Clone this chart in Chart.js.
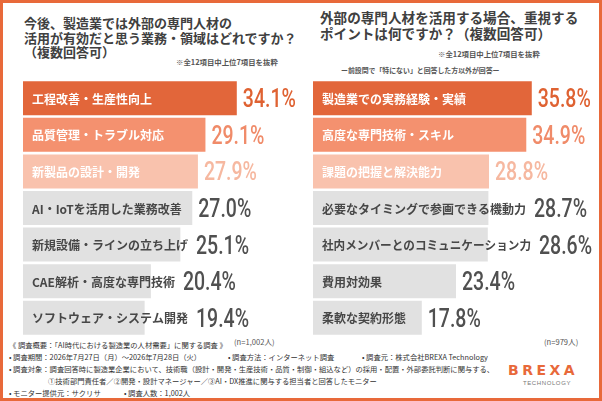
<!DOCTYPE html>
<html lang="ja">
<head>
<meta charset="utf-8">
<script src="https://cdn.jsdelivr.net/npm/chart.js@4.4.1/dist/chart.umd.min.js"></script>
<style>
    body { margin: 0; background: #fff; }
    #frame {
        position: relative; width: 602px; height: 401px; overflow: hidden;
        font-family: "Noto Sans CJK JP", sans-serif; color: #404040; background: #fff;
    }
    #border {
        position: absolute; inset: 0; border: 3px solid #e8693a; pointer-events: none;
    }
    .t { position: absolute; white-space: nowrap; }
    .title { font-weight: bold; }
    .note { font-size: 7.4px; color: #555; font-weight: bold; }
    .foot { font-size: 7.3px; line-height: 8px; color: #333; }
    .n { font-size: 7.6px; color: #555; }
    canvas { position: absolute; }
</style>
</head>
<body>
<div id="frame">
    <div class="t title" style="left:24px; top:16px; font-size:13px; line-height:14.5px;">
        今後、製造業では外部の専門人材の<br>活用が有効だと思う業務・領域はどれですか？<br>（複数回答可）
    </div>
    <div class="t note" style="left:176px; top:56px;">※全12項目中上位7項目を抜粋</div>

    <div class="t title" style="left:320px; top:9px; font-size:13.6px; line-height:16px;">
        外部の専門人材を活用する場合、重視する<br>ポイントは何ですか？（複数回答可）
    </div>
    <div class="t note" style="left:438px; top:48px;">※全12項目中上位7項目を抜粋</div>
    <div class="t note" style="left:341px; top:65px; font-size:6.9px;">ー前設問で「特にない」と回答した方以外が回答ー</div>

    <canvas id="leftChart" width="280" height="256" style="left:23px; top:80px;"></canvas>
    <canvas id="rightChart" width="286" height="256" style="left:313px; top:80px;"></canvas>

    <div class="t n" style="left:234px; top:336px;">(n=1,002人)</div>
    <div class="t n" style="left:544px; top:336px;">(n=979人)</div>

    <div class="t foot" style="left:9px; top:341px;">《 調査概要：「AI時代における製造業の人材需要」に関する調査 》</div>
    <div class="t foot" style="left:9px; top:353px;">• 調査期間：2026年7月27日（月）～2026年7月28日（火）</div>
    <div class="t foot" style="left:228px; top:353px;">• 調査方法：インターネット調査</div>
    <div class="t foot" style="left:362px; top:353px;">• 調査元：株式会社BREXA Technology</div>
    <div class="t foot" style="left:9px; top:365px;">• 調査対象：調査回答時に製造業企業において、技術職（設計・開発・生産技術・品質・制御・組込など）の採用・配置・外部委託判断に関与する、</div>
    <div class="t foot" style="left:48px; top:377px;">①技術部門責任者／②開発・設計マネージャー／③AI・DX推進に関与する担当者と回答したモニター</div>
    <div class="t foot" style="left:9px; top:389px;">• モニター提供元：サクリサ</div>
    <div class="t foot" style="left:124px; top:389px;">• 調査人数：1,002人</div>

    <div class="t" style="left:508px; top:363px; font-family:'DejaVu Sans',sans-serif; font-weight:bold; font-size:14px; line-height:14px; letter-spacing:3.5px; color:#e8693a;">BREXA</div>
    <div class="t" style="left:523px; top:380px; font-family:'Liberation Sans',sans-serif; font-size:6px; line-height:6px; letter-spacing:0.6px; color:#777;">TECHNOLOGY</div>

    <div id="border"></div>
</div>

<script>
const leftCategories = [
    "工程改善・生産性向上",
    "品質管理・トラブル対応",
    "新製品の設計・開発",
    "AI・IoTを活用した業務改善",
    "新規設備・ラインの立ち上げ",
    "CAE解析・高度な専門技術",
    "ソフトウェア・システム開発",
];
const leftValues = [34.1, 29.1, 27.9, 27.0, 25.1, 20.4, 19.4];

const rightCategories = [
    "製造業での実務経験・実績",
    "高度な専門技術・スキル",
    "課題の把握と解決能力",
    "必要なタイミングで参画できる機動力",
    "社内メンバーとのコミュニケーション力",
    "費用対効果",
    "柔軟な契約形態",
];
const rightValues = [35.8, 34.9, 28.8, 28.7, 28.6, 23.4, 17.8];

// rank colours: top 3 in orange shades, the rest grey
const barColors = ["#e2663a", "#f4916f", "#f9c2ad", "#e1e1e1", "#e1e1e1", "#e1e1e1", "#e1e1e1"];
const valueColors = ["#df6232", "#f08b69", "#f6b8a0", "#505050", "#505050", "#505050", "#505050"];
const labelColors = ["#fff", "#fff", "#fff", "#474747", "#474747", "#474747", "#474747"];

// draws category name inside each bar and the % value after it
const barText = {
    id: "barText",
    afterDatasetsDraw(chart) {
        const { ctx, chartArea } = chart;
        const meta = chart.getDatasetMeta(0);
        const labels = chart.data.labels;
        const vals = chart.data.datasets[0].data;
        meta.data.forEach((bar, i) => {
            ctx.save();
            ctx.font = 'bold 12px "Noto Sans CJK JP"';
            ctx.fillStyle = labelColors[i];
            ctx.textAlign = "left";
            ctx.textBaseline = "middle";
            const tx = chartArea.left + 9;
            const maxW = 209;
            ctx.fillText(labels[i], tx, bar.y + 1, maxW);
            const textEnd = tx + Math.min(ctx.measureText(labels[i]).width, maxW);
            const vx = Math.max(bar.x, textEnd + 2) + 6;

            ctx.font = "500 25px Roboto";
            ctx.fillStyle = valueColors[i];
            ctx.textBaseline = "alphabetic";
            ctx.translate(vx, bar.y + 9);
            ctx.scale(0.78, 1);
            ctx.fillText(vals[i].toFixed(1) + "%", 0, 0);
            ctx.restore();
        });
    },
};

function makeChart(id, categories, values, max) {
    return new Chart(document.getElementById(id), {
        type: "bar",
        data: {
            labels: categories,
            datasets: [{
                data: values,
                backgroundColor: barColors,
                borderWidth: 0,
                barPercentage: 0.93,
                categoryPercentage: 1,
            }],
        },
        options: {
            indexAxis: "y",
            responsive: false,
            animation: false,
            layout: { padding: 0 },
            scales: {
                x: { display: false, min: 0, max: max },
                y: { display: false },
            },
            plugins: {
                legend: { display: false },
                tooltip: { enabled: false },
            },
        },
        plugins: [barText],
    });
}

makeChart("leftChart", leftCategories, leftValues, 44.66);
makeChart("rightChart", rightCategories, rightValues, 46.8);
</script>
</body>
</html>
